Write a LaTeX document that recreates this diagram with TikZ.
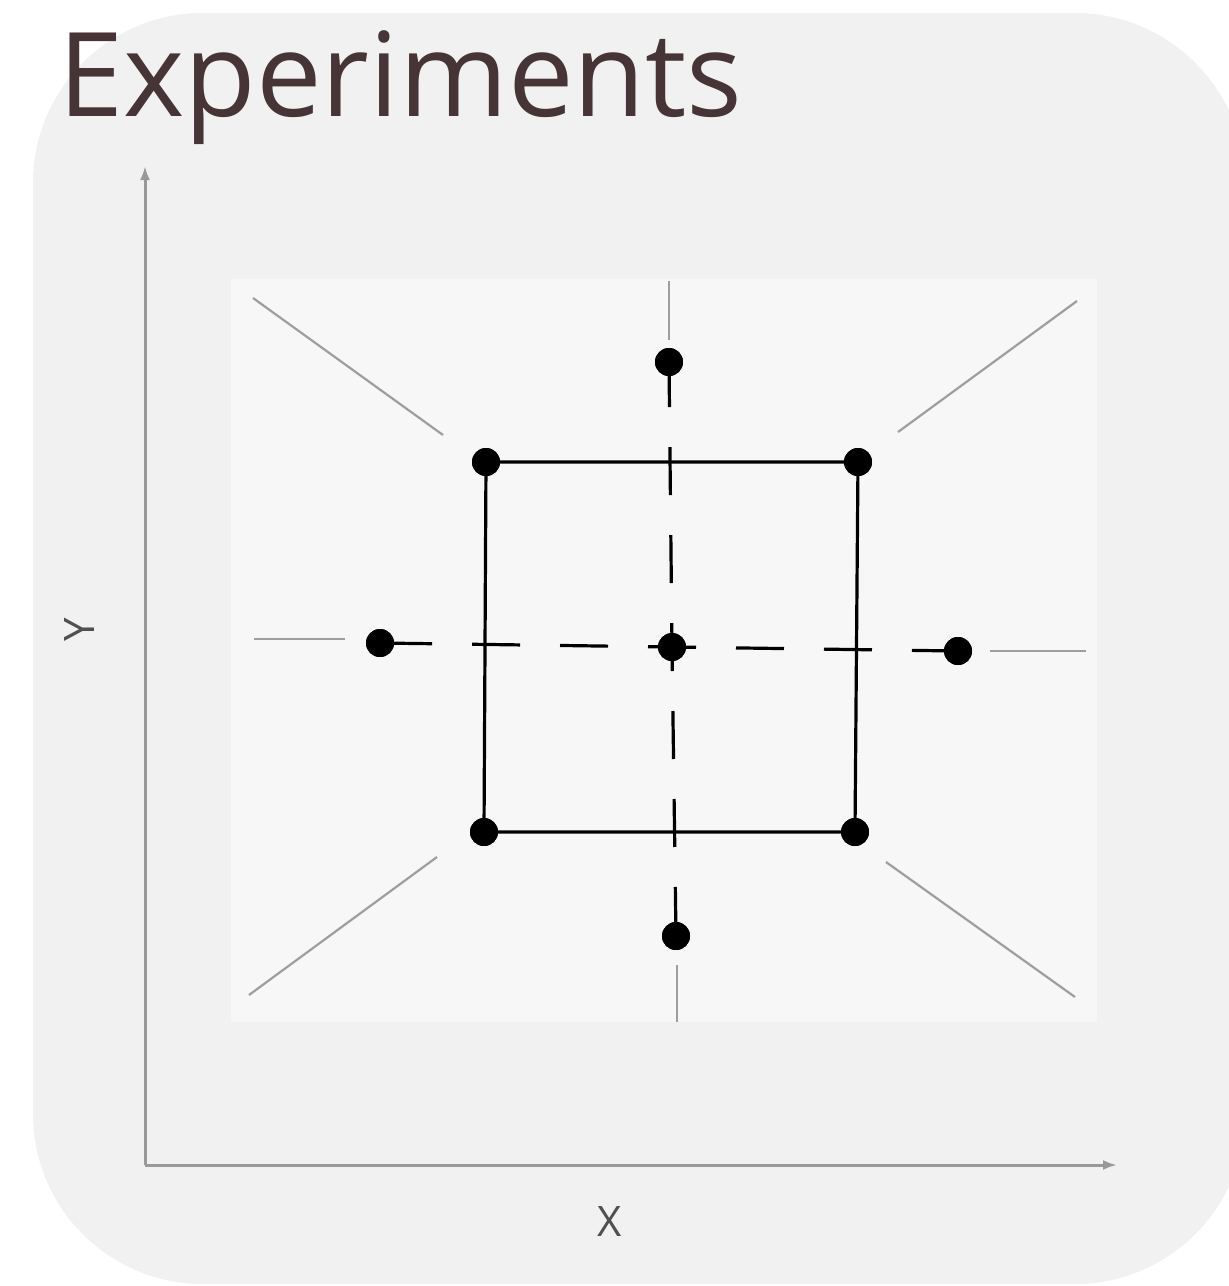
\documentclass[tikz,border=0pt]{standalone}
\usepackage{fontspec}
\setmainfont{Open Sans}
\usetikzlibrary{arrows.meta}
\definecolor{bgc}{HTML}{F1F1F1}
\definecolor{panelc}{HTML}{F7F7F7}
\definecolor{axisc}{HTML}{999999}
\definecolor{guidec}{HTML}{9E9E9E}
\definecolor{titlec}{RGB}{70,52,54}
\definecolor{labc}{HTML}{505050}
\tikzset{
  dot/.style={circle,fill=black,inner sep=0pt,minimum size=28pt},
  guide/.style={draw=guidec,line width=2.2pt},
  axis/.style={draw=axisc,line width=3pt,-{Latex[length=14pt,width=10pt]}},
  cube/.style={draw=black,line width=3.2pt},
  dline/.style={draw=black,line width=3.2pt,dash pattern=on 48pt off 40pt,dash phase=24pt},
  axlab/.style={text=labc,font=\fontsize{42}{42}\selectfont,inner sep=0pt}
}
\begin{document}
\begin{tikzpicture}[x=1pt,y=-1pt]
\useasboundingbox (0,0) rectangle (1229,1286);
\fill[white] (0,0) rectangle (1229,1286);
\fill[bgc,rounded corners=170pt] (33,13) rectangle (1245,1284);
\node[anchor=base west,inner sep=0pt,text=titlec,font=\fontsize{117}{117}\selectfont] (title) at (58,116) {Experiments};
% axes
\coordinate (o) at (145,1165);
\coordinate (ytop) at (145,166);
\coordinate (xend) at (1117,1165);
\draw[axis] (o) -- (ytop);
\draw[axis] (o) -- (xend);
\node[axlab,rotate=90] (ylab) at (80,630) {Y};
\node[axlab] (xlab) at (610,1221) {X};
% panel
\fill[panelc] (231,279) rectangle (1097,1022);
% dots positions
\node[dot] (tl) at (486,462) {};
\node[dot] (tr) at (858,462) {};
\node[dot] (bl) at (484,832) {};
\node[dot] (br) at (855,832) {};
\node[dot] (t) at (669,362) {};
\node[dot] (b) at (676,936) {};
\node[dot] (l) at (380,643) {};
\node[dot] (r) at (958,651) {};
\node[dot] (c) at (672,647) {};
% guide line ends
\coordinate (g1a) at (253,298); \coordinate (g1b) at (443,435);
\coordinate (g2a) at (1077,301); \coordinate (g2b) at (898,432);
\coordinate (g3a) at (249,995); \coordinate (g3b) at (437,857);
\coordinate (g4a) at (1075,997); \coordinate (g4b) at (886,862);
\coordinate (g5a) at (254,639); \coordinate (g5b) at (345,639);
\coordinate (g6a) at (990,651); \coordinate (g6b) at (1086,651);
\coordinate (g7a) at (669,281); \coordinate (g7b) at (669,340);
\coordinate (g8a) at (677,965); \coordinate (g8b) at (677,1022);
\foreach \i in {1,...,8} \draw[guide] (g\i a) -- (g\i b);
% square
\draw[cube] (tl.center) -- (tr.center) -- (br.center) -- (bl.center) -- cycle;
% dashed axes through centre
\draw[dline] (c.center) -- (r.center);
\draw[dline] (c.center) -- (l.center);
\draw[dline] (c.center) -- (t.center);
\draw[dline] (c.center) -- (b.center);
% redraw dots on top
\foreach \n in {tl,tr,bl,br,t,b,l,r,c} \fill[black] (\n) circle (14pt);
\end{tikzpicture}
\end{document}
